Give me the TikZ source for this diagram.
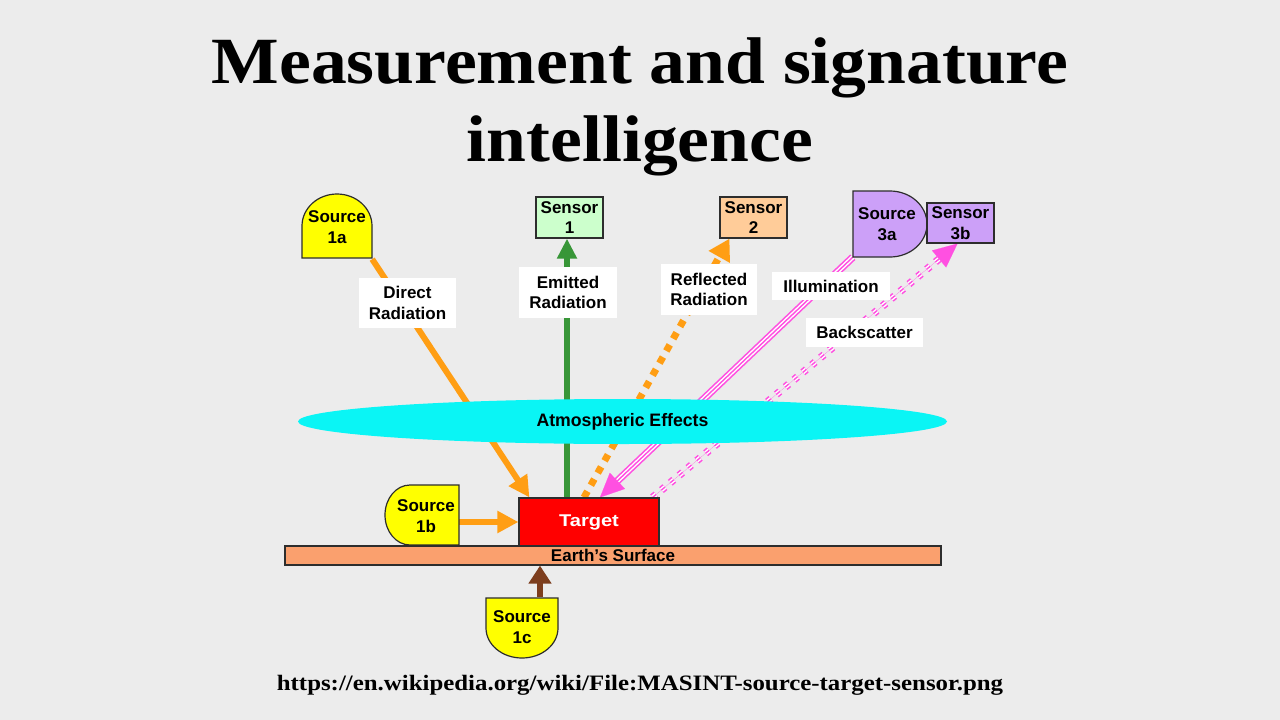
\documentclass[tikz,border=0pt]{standalone}
\usepackage{fontspec}
\setmainfont{Liberation Sans}
\newfontfamily\serifb{Liberation Serif}
\usetikzlibrary{arrows.meta,calc,shapes.geometric}
\pgfdeclarelayer{bgl}
\pgfdeclarelayer{arrl}
\pgfsetlayers{bgl,arrl,main}
\definecolor{bgc}{RGB}{236,236,236}
\definecolor{srcyel}{RGB}{255,255,0}
\definecolor{sen1}{RGB}{204,255,204}
\definecolor{sen2}{RGB}{255,204,153}
\definecolor{lav}{RGB}{204,160,248}
\definecolor{orng}{RGB}{255,158,20}
\definecolor{grn}{RGB}{56,150,56}
\definecolor{pk}{RGB}{255,80,225}
\definecolor{brn}{RGB}{125,62,30}
\definecolor{earthc}{RGB}{250,160,110}
\definecolor{atm}{RGB}{10,245,245}
\definecolor{edge}{RGB}{45,45,45}
\begin{document}
\begin{tikzpicture}[x=1pt,y=-1pt,
  lbl/.style={font=\fontsize{17}{20.5}\selectfont\bfseries, align=center, inner sep=0pt},
  tagbox/.style={lbl, fill=white},
  shp/.style={draw=edge, line width=1.2pt},
  holder/.style={lbl},
  senbox/.style={lbl, draw=edge, line width=1.2pt, minimum width=67pt, minimum height=41pt},
  orarrow/.style={draw=orng, line width=6pt, -{Triangle[length=21pt,width=21pt]}},
  grarrow/.style={draw=grn, line width=6pt, -{Triangle[length=20pt,width=19pt]}},
  brarrow/.style={draw=brn, line width=6pt, -{Triangle[length=18pt,width=22pt]}},
  ordot/.style={draw=orng, line width=7pt, dash pattern=on 7pt off 7pt, -{Triangle[length=21pt,width=23pt]}},
  illum/.style={draw=pk, line width=7.5pt, shorten >=20pt,
    postaction={draw=white, line width=4.3pt, shorten >=20pt},
    postaction={draw=pk, line width=1.4pt, shorten >=20pt},
    postaction={draw=pk, line width=0.1pt, shorten >=0pt, -{Triangle[length=24pt,width=22pt]}}},
  bscat/.style={draw=pk, line width=7.5pt, dash pattern=on 4.5pt off 7pt, shorten >=22pt,
    postaction={draw=white, line width=4.3pt, shorten >=22pt},
    postaction={draw=pk, line width=1.4pt, shorten >=22pt},
    postaction={draw=pk, solid, line width=0.1pt, shorten >=0pt, -{Triangle[length=24pt,width=22pt]}}},
  titlef/.style={font=\serifb\bfseries\fontsize{66}{78}\selectfont, inner sep=0pt, anchor=base}
]
\begin{pgfonlayer}{bgl}
\fill[bgc] (0,0) rectangle (1280,720);
\end{pgfonlayer}
\useasboundingbox (0,0) rectangle (1280,720);

% title and source
\node[titlef] (t1) at (640,83) {\scalebox{1.085}[1]{Measurement and signature}};
\node[titlef] (t2) at (640,161) {\scalebox{1.085}[1]{intelligence}};
\node[font=\serifb\bfseries\fontsize{22}{26}\selectfont, inner sep=0pt, anchor=base] (url) at (640,690) {\scalebox{1.13}[1]{https://en.wikipedia.org/wiki/File:MASINT-source-target-sensor.png}};

% atmosphere
\node[lbl, ellipse, fill=atm, minimum width=649pt, minimum height=45pt] (atm) at (622.5,421.5) {\scalebox{1.04}[1.06]{Atmospheric Effects}};

% shaped sources
\path[shp, fill=srcyel] (302,258) -- (302,226) .. controls (302,208.3) and (317.7,194) .. (337,194)
  .. controls (356.3,194) and (372,208.3) .. (372,226) -- (372,258) -- cycle;
\node[holder, minimum width=70pt, minimum height=64pt] (s1a) at (337,227) {Source\\1a};

\path[shp, fill=srcyel] (459,485) -- (410,485) .. controls (396.2,485) and (385,498.4) .. (385,515)
  .. controls (385,531.6) and (396.2,545) .. (410,545) -- (459,545) -- cycle;
\node[holder, minimum width=66pt, minimum height=60pt] (s1b) at (426,516) {Source\\1b};

\path[shp, fill=srcyel] (486,598) -- (486,628) .. controls (486,644.6) and (502.1,658) .. (522,658)
  .. controls (541.9,658) and (558,644.6) .. (558,628) -- (558,598) -- cycle;
\node[holder, minimum width=72pt, minimum height=60pt] (s1c) at (522,627) {Source\\1c};

\path[shp, fill=lav] (853,191) -- (890,191) .. controls (910.4,191) and (927,205.8) .. (927,224)
  .. controls (927,242.2) and (910.4,257) .. (890,257) -- (853,257) -- cycle;
\node[holder, minimum width=68pt, minimum height=66pt] (s3a) at (887,224) {Source\\3a};

% sensors
\node[senbox, fill=sen1] (s1) at (569.5,217.5) {Sensor\\1};
\node[senbox, fill=sen2] (s2) at (753.5,217.5) {Sensor\\2};
\node[senbox, fill=lav, minimum height=40pt] (s3b) at (960.5,223) {Sensor\\3b};

% ground and target
\node[lbl, draw=edge, line width=1.2pt, fill=earthc, minimum width=656pt, minimum height=19pt] (earth) at (613,555.5) {Earth’s Surface};
\node[lbl, draw=edge, line width=1.2pt, fill=red, text=white, minimum width=140pt, minimum height=48pt] (tgt) at (589,522) {\scalebox{1.18}[1]{Target}};

% labels
\node[tagbox, minimum width=97pt, minimum height=50pt] (ldir) at (407.5,303) {Direct\\Radiation};
\node[tagbox, minimum width=98pt, minimum height=51pt] (lemi) at (568,292.5) {Emitted\\Radiation};
\node[tagbox, minimum width=96pt, minimum height=51pt] (lref) at (709,289.5) {Reflected\\Radiation};
\node[tagbox, minimum width=118pt, minimum height=28pt] (lill) at (831,286) {Illumination};
\node[tagbox, minimum width=117pt, minimum height=29pt] (lbsc) at (864.5,332.5) {Backscatter};

% connectors
\begin{pgfonlayer}{arrl}
\draw[orarrow] (s1a.south east) -- ([xshift=11pt]tgt.north west);
\draw[orarrow] (s1b.east |- tgt.west) -- (tgt.west);
\draw[grarrow] ([xshift=-22pt]tgt.north) -- ([xshift=-22pt]tgt.north |- s1.south);
\draw[ordot] ([xshift=-5pt]tgt.north) -- ([xshift=-24pt]s2.south);
\draw[illum] (s3a.south west) -- ([xshift=11pt]tgt.north);
\draw[bscat] ([xshift=-7pt]tgt.north east) -- ([xshift=-3pt]s3b.south);
\draw[brarrow] ([xshift=18pt]s1c.north) -- ([xshift=18pt]s1c.north |- earth.south);
\end{pgfonlayer}
\end{tikzpicture}
\end{document}
